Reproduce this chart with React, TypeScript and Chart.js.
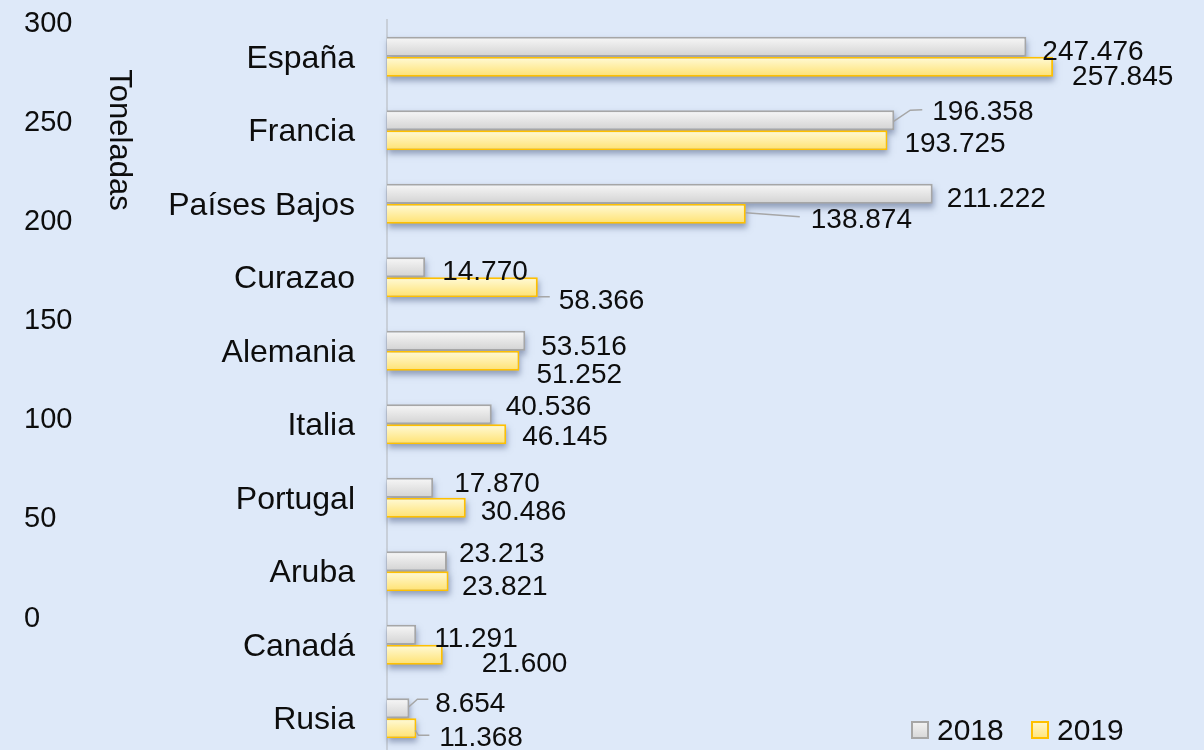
import React, { useEffect, useRef } from "react";
import { Chart, registerables } from "chart.js";

Chart.register(...registerables);

// ---------- data ----------
const categories = ["España", "Francia", "Países Bajos", "Curazao", "Alemania", "Italia", "Portugal", "Aruba", "Canadá", "Rusia"];
const values2018 = [247.476, 196.358, 211.222, 14.77, 53.516, 40.536, 17.87, 23.213, 11.291, 8.654];
const values2019 = [257.845, 193.725, 138.874, 58.366, 51.252, 46.145, 30.486, 23.821, 21.6, 11.368];
const seriesNames = ["2018", "2019"];
const leftAxisTicks = [0, 50, 100, 150, 200, 250, 300];
const axisTitle = "Toneladas";

// ---------- label placement (style: offsets from bar end / bar centre) ----------
const labelPlacement2018 = [[17, 3], [39, -10], [15, 3], [18, 3], [17, 4], [15, -9], [22, -6], [13, -9.5], [19, 2], [27, -6.5]];
const labelPlacement2019 = [[20, 8], [18, 1.5], [66, 4], [22, 12], [18, 12], [17, 1], [16, 2], [14.5, 4], [40, 7], [24, 8]];
const leaders2018: Record<number, number[][]> = { 1: [[-1, 1.5], [16, -10], [28, -10.5]], 9: [[-1, -1], [8, -9], [19, -9]] };
const leaders2019: Record<number, number[][]> = { 2: [[0, -1], [54, 3]], 3: [[0, 9.5], [12, 9.5]], 9: [[-1, 2], [2, 7], [13, 7]] };

const FONT = "'Liberation Sans', Arial, sans-serif";
const BG = "#DEE9F9";
const gradStops = [
  ["#f4f4f4", "#d6d6d6"],
  ["#fff8cf", "#ffe47a"],
];
const borderColors = ["#a6a6a6", "#ffc000"];

const decorPlugin = {
  id: "decor",
  beforeDraw(chart: any) {
    const { ctx, width, height } = chart;
    ctx.save();
    ctx.fillStyle = BG;
    ctx.fillRect(0, 0, width, height);
    ctx.restore();
  },
  beforeDatasetsDraw(chart: any) {
    const ctx = chart.ctx;
    const OFF = 5000;
    ctx.save();
    ctx.shadowColor = "rgba(70,85,125,0.5)";
    ctx.shadowBlur = 6;
    ctx.shadowOffsetX = OFF + 1;
    ctx.shadowOffsetY = 4;
    ctx.fillStyle = "#000";
    chart.data.datasets.forEach((_: any, di: number) => {
      const meta = chart.getDatasetMeta(di);
      meta.data.forEach((el: any) => {
        const { x, y, base, height } = el.getProps(["x", "y", "base", "height"], true);
        const x0 = Math.min(x, base);
        const w = Math.abs(x - base);
        ctx.fillRect(x0 - OFF, y - height / 2, w, height);
      });
    });
    ctx.restore();
  },
  afterDatasetDraw(chart: any, args: any) {
    const ctx = chart.ctx;
    const di = args.index;
    const meta = args.meta;
    ctx.save();
    meta.data.forEach((el: any) => {
      const { x, y, base, height } = el.getProps(["x", "y", "base", "height"], true);
      const bw = el.options.borderWidth || 0;
      const left = Math.min(x, base);
      const right = Math.max(x, base) - bw;
      const top = y - height / 2 + bw;
      const bottom = y + height / 2 - bw;
      if (right <= left || bottom <= top) return;
      const g = ctx.createLinearGradient(0, top, 0, bottom);
      g.addColorStop(0, gradStops[di][0]);
      g.addColorStop(1, gradStops[di][1]);
      ctx.fillStyle = g;
      ctx.fillRect(left, top, right - left, bottom - top);
    });
    ctx.restore();
  },
  afterDatasetsDraw(chart: any) {
    const ctx = chart.ctx;
    ctx.save();
    // data labels and leader lines
    const placements = [labelPlacement2018, labelPlacement2019];
    const leaders = [leaders2018, leaders2019];
    ctx.font = `28px ${FONT}`;
    ctx.textAlign = "left";
    ctx.textBaseline = "alphabetic";
    chart.data.datasets.forEach((ds: any, di: number) => {
      const meta = chart.getDatasetMeta(di);
      meta.data.forEach((el: any, i: number) => {
        const { x, y } = el.getProps(["x", "y"], true);
        const lead = leaders[di][i];
        if (lead) {
          ctx.strokeStyle = "#a6a6a6";
          ctx.lineWidth = 1.5;
          ctx.beginPath();
          lead.forEach((p: number[], k: number) => {
            if (k === 0) ctx.moveTo(x + p[0], y + p[1]);
            else ctx.lineTo(x + p[0], y + p[1]);
          });
          ctx.stroke();
        }
        const [dx, dy] = placements[di][i];
        ctx.fillStyle = "#0d0d0d";
        ctx.fillText(Number(ds.data[i]).toFixed(3), x + dx - 1, y + dy + 10);
      });
    });

    // legend
    const legendX = [911, 1031];
    chart.data.datasets.forEach((ds: any, di: number) => {
      const bx = legendX[di];
      const by = 721;
      const g = ctx.createLinearGradient(0, by, 0, by + 18);
      g.addColorStop(0, gradStops[di][0]);
      g.addColorStop(1, gradStops[di][1]);
      ctx.fillStyle = g;
      ctx.fillRect(bx, by, 18, 18);
      ctx.strokeStyle = borderColors[di];
      ctx.lineWidth = 2;
      ctx.strokeRect(bx + 1, by + 1, 16, 16);
      ctx.fillStyle = "#0d0d0d";
      ctx.font = `30px ${FONT}`;
      ctx.textAlign = "left";
      ctx.textBaseline = "alphabetic";
      ctx.fillText(ds.label, bx + 26, 740);
    });

    // vertical axis title
    ctx.translate(121, 140);
    ctx.rotate(Math.PI / 2);
    ctx.font = `31px ${FONT}`;
    ctx.textAlign = "center";
    ctx.textBaseline = "alphabetic";
    ctx.fillStyle = "#0d0d0d";
    ctx.fillText(axisTitle, 0, 11);
    ctx.restore();
  },
};

export default function App() {
  const canvasRef = useRef<HTMLCanvasElement | null>(null);

  useEffect(() => {
    const canvas = canvasRef.current;
    if (!canvas) return;
    const chart = new Chart(canvas, {
      type: "bar",
      data: {
        labels: categories,
        datasets: [
          {
            label: seriesNames[0],
            data: values2018,
            yAxisID: "y",
            xAxisID: "x",
            backgroundColor: "#e4e4e4",
            borderColor: borderColors[0],
            borderWidth: 2,
            borderSkipped: "start",
            barPercentage: 1,
            categoryPercentage: 0.545,
          },
          {
            label: seriesNames[1],
            data: values2019,
            yAxisID: "y",
            xAxisID: "x",
            backgroundColor: "#ffee9e",
            borderColor: borderColors[1],
            borderWidth: 2,
            borderSkipped: "start",
            barPercentage: 1,
            categoryPercentage: 0.545,
          },
        ],
      },
      options: {
        indexAxis: "y",
        responsive: false,
        animation: false,
        devicePixelRatio: 1,
        layout: { padding: { left: 24, right: 42, top: 20, bottom: 5 } },
        plugins: { legend: { display: false }, tooltip: { enabled: false } },
        scales: {
          x: { display: false, min: 0, max: 300 },
          y: {
            type: "category",
            position: "left",
            weight: 0,
            grid: { display: false, drawTicks: false },
            border: { display: true, color: "#c8cfd9", width: 2 },
            ticks: { color: "#0d0d0d", font: { family: FONT, size: 32 }, padding: 32, crossAlign: "near", labelOffset: 2 },
            afterFit: (s: any) => {
              s.width = 253;
              s.paddingTop = 0;
              s.paddingBottom = 0;
            },
          },
          y2: {
            type: "linear",
            position: "left",
            weight: 10,
            bounds: "data",
            offset: false,
            min: -69.3,
            max: 301.3,
            afterBuildTicks: (s: any) => {
              s.ticks = leftAxisTicks.map((v) => ({ value: v }));
            },
            grid: { display: false, drawTicks: false, offset: false },
            border: { display: false },
            ticks: {
              color: "#0d0d0d",
              font: { family: FONT, size: 29 },
              crossAlign: "far",
              padding: 0,
              labelOffset: 1,
              callback: (v: any) => String(v),
            },
            afterFit: (s: any) => {
              s.width = 110;
              s.paddingTop = 0;
              s.paddingBottom = 0;
            },
          },
        },
      } as any,
      plugins: [decorPlugin],
    });
    return () => chart.destroy();
  }, []);

  return (
    <div
      style={{
        position: "fixed",
        left: 0,
        top: 0,
        width: 1204,
        height: 750,
        overflow: "hidden",
        background: BG,
      }}
    >
      <canvas ref={canvasRef} width={1204} height={760} style={{ display: "block" }} />
    </div>
  );
}
